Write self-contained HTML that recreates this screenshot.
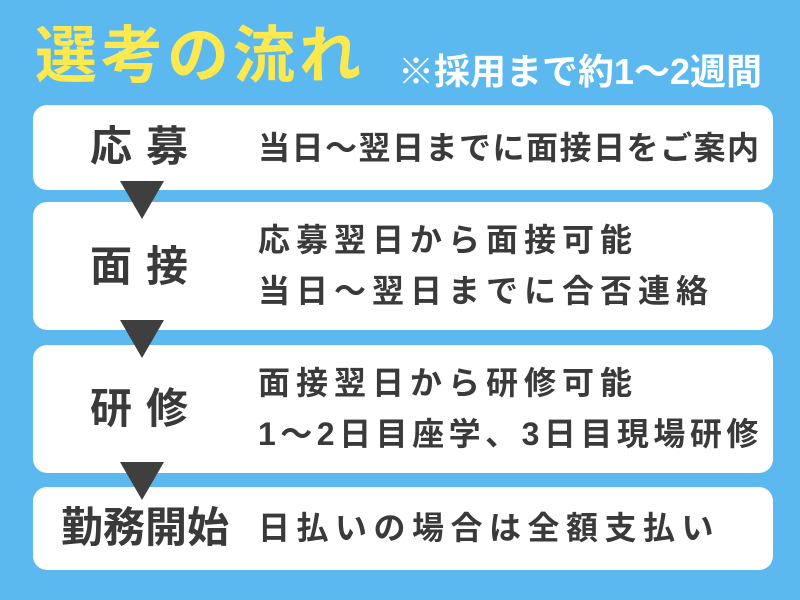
<!DOCTYPE html>
<html><head><meta charset="utf-8"><style>
body{margin:0;width:800px;height:600px;background:#5cb9f0;position:relative;overflow:hidden;font-family:"Liberation Sans","Noto Sans CJK JP",sans-serif;font-weight:bold}
.t{position:absolute;white-space:nowrap;line-height:1}
.box{position:absolute;left:33px;width:740px;background:#fff;border-radius:14px}
.lab{position:absolute;color:#3a3a3a;font-size:42px;white-space:nowrap;line-height:1}
.txt{position:absolute;left:258px;color:#3a3a3a;font-size:32px;white-space:nowrap;line-height:1;letter-spacing:6px}
.tri{position:absolute;left:120px;width:0;height:0;border-left:22px solid transparent;border-right:22px solid transparent;border-top:38px solid #3f3f3f}
</style></head><body>
<div class="t" style="left:35px;top:26px;font-size:62px;color:#fce94f;letter-spacing:4px">選考の流れ</div>
<div class="t" style="left:398px;top:54px;font-size:36px;color:#fff">※採用まで約1～2週間</div>

<div class="box" style="top:105px;height:85px"></div>
<div class="box" style="top:202px;height:128px"></div>
<div class="box" style="top:345px;height:128px"></div>
<div class="box" style="top:487px;height:83px"></div>

<div class="tri" style="top:181px"></div>
<div class="tri" style="top:320px"></div>
<div class="tri" style="top:462px"></div>

<div class="lab" style="left:90px;top:126px;letter-spacing:14px">応募</div>
<div class="lab" style="left:90px;top:246px;letter-spacing:14px">面接</div>
<div class="lab" style="left:90px;top:388px;letter-spacing:14px">研修</div>
<div class="lab" style="left:61px;top:507px">勤務開始</div>

<div class="txt" style="top:132px;letter-spacing:1.5px">当日～翌日までに面接日をご案内</div>
<div class="txt" style="top:224px">応募翌日から面接可能</div>
<div class="txt" style="top:275px">当日～翌日までに合否連絡</div>
<div class="txt" style="top:367px">面接翌日から研修可能</div>
<div class="txt" style="top:418px;letter-spacing:4.5px">1～2日目座学、3日目現場研修</div>
<div class="txt" style="top:512px;letter-spacing:6.5px">日払いの場合は全額支払い</div>
</body></html>
